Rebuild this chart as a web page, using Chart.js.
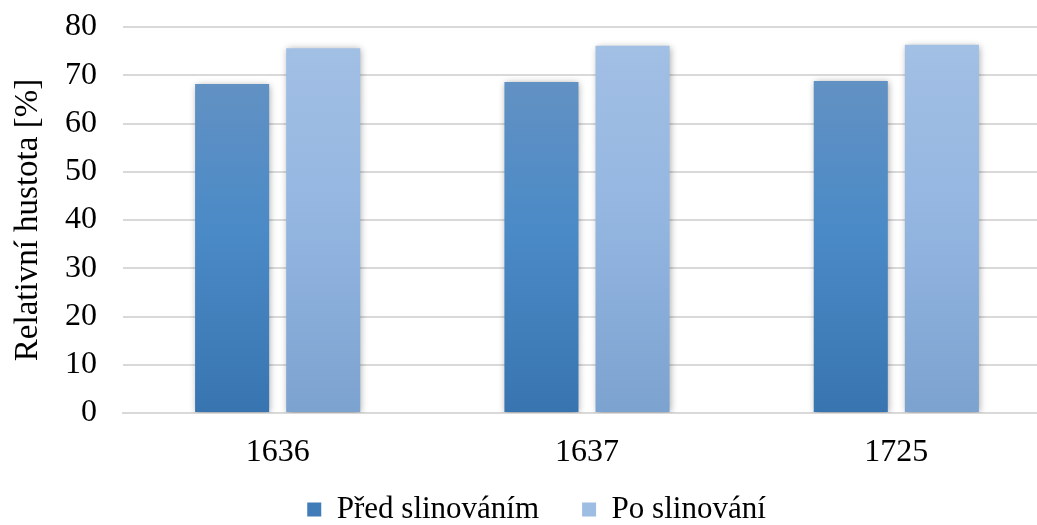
<!DOCTYPE html>
<html>
<head>
<meta charset="utf-8">
<script src="https://cdn.jsdelivr.net/npm/chart.js@4/dist/chart.umd.min.js"></script>
<style>
  html, body { margin: 0; padding: 0; background: #fff; overflow: hidden; }
  #wrap { width: 1051px; height: 525px; }
</style>
</head>
<body>
<div id="wrap"><canvas id="graph"></canvas></div>
<script>
const categories = ['1636', '1637', '1725'];
const predSlinovanim = [68.2, 68.6, 68.8];
const poSlinovani = [75.6, 76.1, 76.3];
const seriesNames = ['Před slinováním', 'Po slinování'];

const FONT = "'Liberation Serif', 'Times New Roman', serif";

// vertical gradient like the office-style fill, top lighter, bottom darker
function barGradient(stops) {
    return function (context) {
        const chart = context.chart;
        const area = chart.chartArea;
        if (!area) return stops[1];
        const y = chart.scales.y;
        const g = chart.ctx.createLinearGradient(0, area.bottom, 0, y.getPixelForValue(76));
        g.addColorStop(0, stops[2]);
        g.addColorStop(0.5, stops[1]);
        g.addColorStop(1, stops[0]);
        return g;
    };
}

// soft shadow under bars
const barShadow = {
    id: 'barShadow',
    beforeDatasetsDraw(chart) {
        const ctx = chart.ctx;
        ctx.save();
        ctx.shadowColor = 'rgba(0,0,0,0.35)';
        ctx.shadowBlur = 7;
        ctx.shadowOffsetX = 1;
        ctx.shadowOffsetY = 1;
    },
    afterDatasetsDraw(chart) {
        chart.ctx.restore();
    }
};

// legend only reserves a thin strip, but is drawn in a taller box so the
// wide label padding (used as gap between items) still fits
const legendStrip = {
    id: 'legendStrip',
    beforeLayout(chart) {
        const lg = chart.legend;
        if (lg && !lg._strip) {
            const fit = lg.fit.bind(lg);
            const draw = lg.draw.bind(lg);
            lg.fit = function () {
                fit();
                this.height = 38;
            };
            lg.draw = function () {
                const top = this.top, height = this.height;
                this.height = 74;
                this.top = this.bottom - 74;
                draw();
                this.top = top;
                this.height = height;
            };
            lg._strip = true;
        }
    }
};

const legendColors = ['#3f7cb8', '#9dbde3'];

let ctx = document.getElementById('graph').getContext('2d');

const data = {
    labels: categories,
    datasets: [
        {
            label: seriesNames[0],
            data: predSlinovanim,
            backgroundColor: barGradient(['#6893c3', '#4a8ac6', '#3875b0'])
        },
        {
            label: seriesNames[1],
            data: poSlinovani,
            backgroundColor: barGradient(['#a2bfe4', '#92b5e0', '#7ca2cf'])
        }
    ]
};

const config = {
    type: 'bar',
    data: data,
    plugins: [barShadow, legendStrip],
    options: {
        responsive: true,
        maintainAspectRatio: false,
        animation: false,
        datasets: {
            bar: {
                barPercentage: 0.813,
                categoryPercentage: 0.589
            }
        },
        layout: {
            padding: { top: 27, left: 22, right: 0, bottom: 0 }
        },
        plugins: {
            legend: {
                position: 'bottom',
                labels: {
                    font: { family: FONT, size: 31 },
                    color: '#000',
                    boxWidth: 14,
                    boxHeight: 14,
                    padding: 43,
                    generateLabels(chart) {
                        const items = Chart.defaults.plugins.legend.labels.generateLabels(chart);
                        items.forEach(function (it, i) {
                            it.fillStyle = legendColors[i];
                            it.strokeStyle = legendColors[i];
                            it.lineWidth = 0;
                        });
                        return items;
                    }
                }
            },
            tooltip: { enabled: false }
        },
        scales: {
            x: {
                grid: { display: false, drawTicks: false },
                border: { display: true, color: '#d9d9d9', width: 2 },
                ticks: {
                    font: { family: FONT, size: 32 },
                    color: '#000',
                    padding: 20
                },
                afterFit(scale) {
                    scale.height = 74;
                }
            },
            y: {
                min: 0,
                max: 80,
                ticks: {
                    stepSize: 10,
                    font: { family: FONT, size: 32 },
                    color: '#000',
                    padding: 26
                },
                grid: { color: '#d9d9d9', lineWidth: 2, drawTicks: false },
                border: { display: false },
                title: {
                    display: true,
                    text: 'Relativní hustota [%]',
                    font: { family: FONT, size: 33 },
                    color: '#000',
                    padding: { top: -13, bottom: 0 }
                },
                afterFit(scale) {
                    scale.width = 101;
                    scale.paddingTop = 0;
                    scale.paddingBottom = 0;
                }
            }
        }
    }
};

let graph = new Chart(ctx, config);
</script>
</body>
</html>
